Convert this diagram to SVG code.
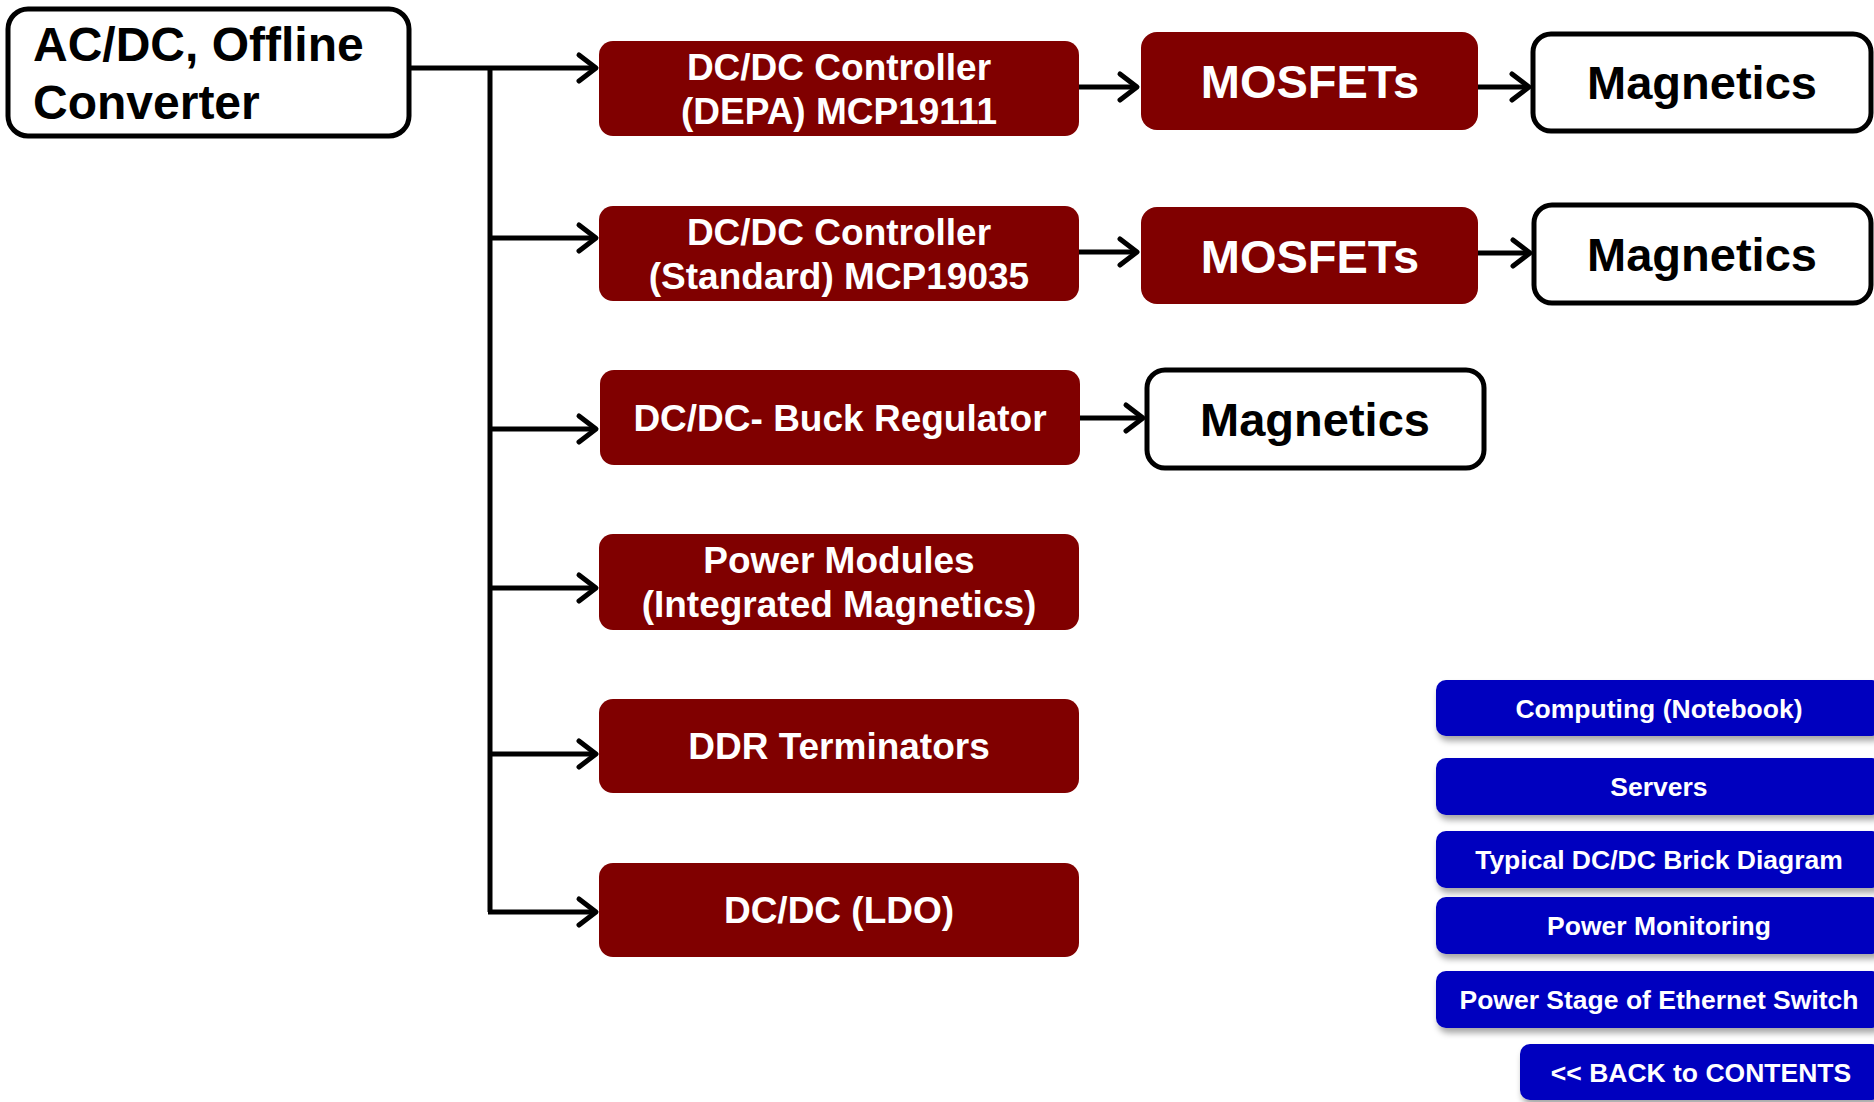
<svg xmlns="http://www.w3.org/2000/svg" width="1874" height="1102" viewBox="0 0 1874 1102">
<style>
text{font-family:"Liberation Sans",Arial,sans-serif;font-weight:bold;text-anchor:middle}
.red rect{fill:#800000}
.red text{fill:#fff;font-size:37px}
.wht rect{fill:#fff;stroke:#000;stroke-width:5}
.wht text{fill:#000;font-size:47px}
.mos text{font-size:47px}
.btn rect{fill:#0000bf;filter:url(#sh)}
.btn text{fill:#fff;font-size:26.5px}
.con path{fill:none;stroke:#000;stroke-width:5}
</style>
<defs>
<marker id="ar" markerUnits="userSpaceOnUse" markerWidth="30" markerHeight="30" refX="26" refY="15" orient="auto" overflow="visible">
<path d="M9,2 L26,15 L9,28" fill="none" stroke="#000" stroke-width="5" stroke-linecap="round" stroke-linejoin="round"/>
</marker>
<filter id="sh" x="-5%" y="-20%" width="110%" height="160%">
<feDropShadow dx="2" dy="5" stdDeviation="3" flood-color="#000" flood-opacity="0.35"/>
</filter>
</defs>
<rect width="1874" height="1102" fill="#fff"/>
<g class="con">
<path d="M409,68 H596" marker-end="url(#ar)"/>
<path d="M490,68 V912"/>
<path d="M488,238 H596" marker-end="url(#ar)"/>
<path d="M488,429 H596" marker-end="url(#ar)"/>
<path d="M488,588 H596" marker-end="url(#ar)"/>
<path d="M488,754 H596" marker-end="url(#ar)"/>
<path d="M488,912 H596" marker-end="url(#ar)"/>
<path d="M1079,87 H1137" marker-end="url(#ar)"/>
<path d="M1079,252 H1137" marker-end="url(#ar)"/>
<path d="M1080,418 H1143" marker-end="url(#ar)"/>
<path d="M1477,87 H1529" marker-end="url(#ar)"/>
<path d="M1477,253 H1530" marker-end="url(#ar)"/>
</g>
<g id="src" class="wht"><rect x="8" y="9" width="401" height="127" rx="20"/><text x="33" y="61" style="text-anchor:start;font-size:48px">AC/DC, Offline</text><text x="33" y="119" style="text-anchor:start;font-size:48px">Converter</text></g>
<g id="ctl1" class="red"><rect x="599" y="41" width="480" height="95" rx="14"/><text x="839" y="80">DC/DC Controller</text><text x="839" y="124">(DEPA) MCP19111</text></g>
<g id="ctl2" class="red"><rect x="599" y="206" width="480" height="95" rx="14"/><text x="839" y="245">DC/DC Controller</text><text x="839" y="289">(Standard) MCP19035</text></g>
<g id="buck" class="red"><rect x="600" y="370" width="480" height="95" rx="14"/><text x="840" y="431">DC/DC- Buck Regulator</text></g>
<g id="pm" class="red"><rect x="599" y="534" width="480" height="96" rx="14"/><text x="839" y="573">Power Modules</text><text x="839" y="617">(Integrated Magnetics)</text></g>
<g id="ddr" class="red"><rect x="599" y="699" width="480" height="94" rx="14"/><text x="839" y="759">DDR Terminators</text></g>
<g id="ldo" class="red"><rect x="599" y="863" width="480" height="94" rx="14"/><text x="839" y="923">DC/DC (LDO)</text></g>
<g id="mos1" class="red mos"><rect x="1141" y="32" width="337" height="98" rx="16"/><text x="1310" y="98">MOSFETs</text></g>
<g id="mos2" class="red mos"><rect x="1141" y="207" width="337" height="97" rx="16"/><text x="1310" y="273">MOSFETs</text></g>
<g id="mag1" class="wht"><rect x="1533" y="34" width="338" height="97" rx="18"/><text x="1702" y="99">Magnetics</text></g>
<g id="mag2" class="wht"><rect x="1534" y="205" width="337" height="98" rx="18"/><text x="1702" y="271">Magnetics</text></g>
<g id="mag3" class="wht"><rect x="1147" y="370" width="337" height="98" rx="18"/><text x="1315" y="436">Magnetics</text></g>
<g id="b1" class="btn"><rect x="1436" y="680" width="446" height="56" rx="10"/><text x="1659" y="718">Computing (Notebook)</text></g>
<g id="b2" class="btn"><rect x="1436" y="758" width="446" height="57" rx="10"/><text x="1659" y="796">Servers</text></g>
<g id="b3" class="btn"><rect x="1436" y="831" width="446" height="57" rx="10"/><text x="1659" y="869">Typical DC/DC Brick Diagram</text></g>
<g id="b4" class="btn"><rect x="1436" y="897" width="446" height="57" rx="10"/><text x="1659" y="935">Power Monitoring</text></g>
<g id="b5" class="btn"><rect x="1436" y="971" width="446" height="57" rx="10"/><text x="1659" y="1009">Power Stage of Ethernet Switch</text></g>
<g id="b6" class="btn"><rect x="1520" y="1044" width="362" height="56" rx="10"/><text x="1701" y="1082">&lt;&lt; BACK to CONTENTS</text></g>
</svg>
